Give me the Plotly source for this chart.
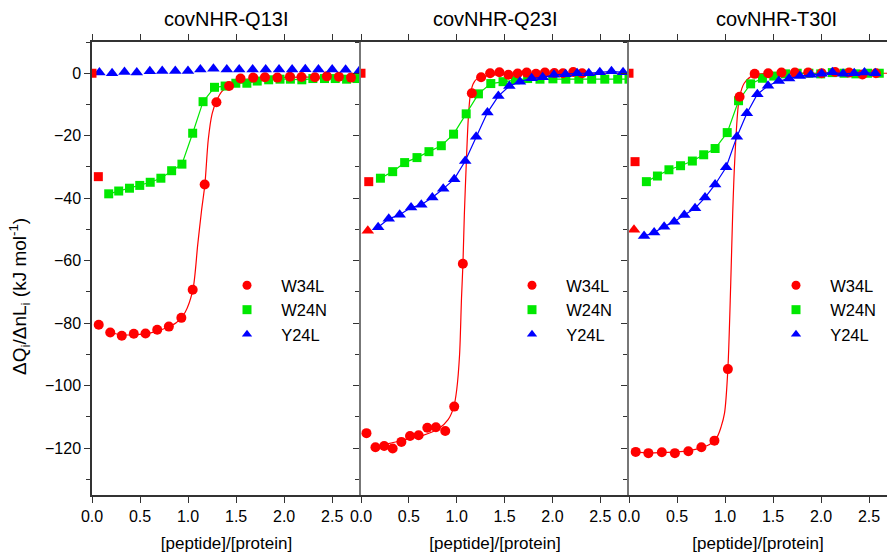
import plotly.graph_objects as go

# ---------------- data ----------------
panel_titles = ["covNHR-Q13I", "covNHR-Q23I", "covNHR-T30I"]
series_names = ["W34L", "W24N", "Y24L"]

# initial (discarded) injection shown at x~0 in every panel
zero_x = [0.0]
zero_y = [0.0]

# ---- covNHR-Q13I ----
q13_w34l_x = [0.07, 0.19, 0.31, 0.435, 0.557, 0.679, 0.80, 0.93, 1.048, 1.173, 1.295, 1.427, 1.546,
              1.678, 1.80, 1.93, 2.06, 2.18, 2.32, 2.445, 2.57, 2.696]
q13_w34l_y = [-80.5, -83.0, -84.0, -83.4, -83.3, -82.1, -81.1, -78.3, -69.3, -35.6, -9.3, -4.1, -1.7,
              -1.4, -1.3, -1.4, -1.1, -1.2, -1.3, -1.0, -1.1, -1.4]
q13_w34l_fit_x = [0.19, 0.3, 0.45, 0.6, 0.75, 0.88, 0.97, 1.05, 1.1, 1.14, 1.175, 1.21, 1.25, 1.3,
                  1.35, 1.45, 1.55, 1.7, 2.0, 2.4, 2.75]
q13_w34l_fit_y = [-83.0, -83.7, -83.7, -83.2, -81.8, -79.8, -76.5, -69.3, -55.0, -44.0, -35.6, -21.3,
                  -13.0, -8.6, -5.9, -3.4, -2.2, -1.6, -1.3, -1.2, -1.2]
q13_w24n_first = (0.066, -33.1)
q13_w24n_x = [0.174, 0.278, 0.39, 0.497, 0.606, 0.717, 0.829, 0.936, 1.048, 1.156, 1.275, 1.386, 1.497,
              1.612, 1.72, 1.839, 1.957, 2.065, 2.184, 2.299, 2.42, 2.532, 2.65, 2.758]
q13_w24n_y = [-38.6, -37.7, -36.8, -35.9, -34.9, -33.6, -31.2, -29.1, -19.2, -9.1, -4.5, -4.1, -3.2,
              -3.2, -2.5, -2.1, -1.9, -1.9, -2.1, -1.7, -1.7, -1.7, -1.9, -1.7]
q13_y24l_first = None
q13_y24l_x = [0.077, 0.209, 0.338, 0.466, 0.602, 0.731, 0.867, 0.999, 1.128, 1.264, 1.403, 1.532, 1.672,
              1.808, 1.947, 2.083, 2.22, 2.357, 2.5, 2.64, 2.786]
q13_y24l_y = [0.2, 0.0, 0.4, 0.2, 0.6, 0.7, 0.7, 0.7, 1.2, 1.4, 1.2, 1.2, 1.2, 1.2, 1.2, 1.2, 1.3, 1.2,
              1.2, 1.1, 0.9]

# ---- covNHR-Q23I ----
q23_w34l_x = [0.057, 0.151, 0.242, 0.331, 0.422, 0.512, 0.602, 0.693, 0.783, 0.88, 0.974, 1.064, 1.158,
              1.255, 1.349, 1.446, 1.54, 1.637, 1.731, 1.828, 1.922, 2.02, 2.11, 2.217, 2.31]
q23_w34l_y = [-115.2, -119.7, -119.3, -120.1, -118.0, -116.1, -115.9, -113.5, -113.3, -114.5, -106.7,
              -61.0, -6.4, -1.3, 0.0, 0.3, -0.5, -0.1, 0.2, -0.2, 0.2, 0.1, 0.0, 0.4, 0.0]
q23_w34l_fit_x = [0.15, 0.3, 0.46, 0.64, 0.81, 0.91, 0.97, 1.0, 1.03, 1.05, 1.065, 1.08, 1.10, 1.12,
                  1.14, 1.17, 1.21, 1.28, 1.4, 1.7, 2.2, 2.75]
q23_w34l_fit_y = [-119.5, -118.5, -117.3, -116.0, -113.8, -110.9, -106.7, -101.3, -90.0, -72.0, -61.0,
                  -45.0, -28.8, -15.0, -7.5, -3.5, -1.8, -1.0, -0.5, -0.2, 0.0, 0.0]
q23_w24n_first = (0.081, -34.7)
q23_w24n_x = [0.203, 0.331, 0.456, 0.585, 0.71, 0.839, 0.967, 1.099, 1.227, 1.356, 1.484, 1.613, 1.741,
              1.87, 2.005, 2.14, 2.276, 2.41, 2.547, 2.682, 2.80]
q23_w24n_y = [-33.6, -31.5, -28.6, -27.0, -25.1, -23.2, -19.5, -13.0, -6.6, -3.3, -2.7, -2.1, -1.7,
              -1.9, -1.8, -1.9, -1.9, -1.9, -1.9, -1.9, -1.9]
q23_y24l_first = (0.071, -50.4)
q23_y24l_x = [0.179, 0.29, 0.404, 0.523, 0.63, 0.745, 0.859, 0.974, 1.089, 1.203, 1.321, 1.435, 1.55,
              1.661, 1.783, 1.898, 2.016, 2.137, 2.258, 2.38, 2.495, 2.617, 2.738]
q23_y24l_y = [-49.3, -46.6, -45.3, -43.0, -42.1, -39.8, -37.0, -33.9, -28.1, -20.3, -12.6, -7.3, -4.1,
              -2.7, -1.6, -1.3, -0.5, -0.3, 0.0, 0.0, 0.3, 0.6, 0.3]

# ---- covNHR-T30I ----
t30_w34l_x = [0.07, 0.202, 0.342, 0.478, 0.618, 0.754, 0.89, 1.03, 1.152, 1.309, 1.45, 1.588, 1.728,
              1.867, 2.007, 2.147, 2.293, 2.432, 2.572]
t30_w34l_y = [-121.2, -121.6, -121.3, -121.6, -121.0, -119.7, -117.6, -94.7, -7.5, -0.2, 0.0, 0.2, 0.2,
              0.2, 0.0, 0.4, 0.2, -0.4, 0.0]
t30_w34l_fit_x = [0.07, 0.2, 0.35, 0.5, 0.62, 0.75, 0.85, 0.92, 0.96, 0.995, 1.03, 1.06, 1.08, 1.10,
                  1.134, 1.152, 1.2, 1.3, 1.5, 2.0, 2.69]
t30_w34l_fit_y = [-121.3, -121.5, -121.4, -121.2, -120.8, -119.9, -118.6, -116.3, -113.1, -108.8, -94.7,
                  -67.0, -45.0, -28.8, -11.7, -7.5, -3.2, -0.6, 0.0, 0.0, 0.0]
t30_w24n_first = (0.063, -28.3)
t30_w24n_x = [0.181, 0.296, 0.416, 0.537, 0.66, 0.778, 0.897, 1.023, 1.141, 1.267, 1.39, 1.508, 1.63,
              1.752, 1.874, 1.997, 2.118, 2.24, 2.363, 2.485, 2.607]
t30_w24n_y = [-34.7, -32.9, -30.9, -29.6, -28.1, -26.1, -24.1, -19.0, -8.8, -3.4, -1.6, -0.9, -0.2, 0.0,
              0.0, -0.2, 0.2, 0.0, -0.2, 0.0, 0.0]
t30_y24l_first = (0.052, -50.1)
t30_y24l_x = [0.157, 0.262, 0.366, 0.471, 0.576, 0.688, 0.792, 0.897, 1.012, 1.124, 1.228, 1.337, 1.448,
              1.56, 1.668, 1.78, 1.895, 2.007, 2.118, 2.23, 2.346, 2.453, 2.565]
t30_y24l_y = [-52.1, -51.0, -49.1, -47.5, -45.4, -43.2, -39.8, -35.6, -30.1, -20.3, -12.8, -6.7, -4.0,
              -2.5, -1.7, -0.9, -0.5, -0.2, 0.3, -0.2, 0.0, 0.2, 0.0]

x_tick_vals = [0.0, 0.5, 1.0, 1.5, 2.0, 2.5]
y_tick_vals = [0, -20, -40, -60, -80, -100, -120]

# ---------------- styling / layout ----------------
W, H = 887, 553
ML, MR, MT, MB = 92, 0, 42, 58
PW = W - ML - MR
PH = H - MT - MB
bounds_px = [92, 361, 629, 887]
domains = [[(bounds_px[i] - ML) / PW, (bounds_px[i + 1] - ML) / PW] for i in range(3)]
x_ranges = [[0, 2.8], [0, 2.8], [0, (887 - 629) / 96.0]]

RED, GREEN, BLUE = "#ff0000", "#00e800", "#0000ff"
FONT = "Liberation Sans, Arial, sans-serif"
NBSP = "\u00a0"

panels = [
    dict(w34=(q13_w34l_x, q13_w34l_y), fit=(q13_w34l_fit_x, q13_w34l_fit_y),
         w24=(q13_w24n_x, q13_w24n_y), w24f=q13_w24n_first,
         y24=(q13_y24l_x, q13_y24l_y), y24f=q13_y24l_first, y24line=False),
    dict(w34=(q23_w34l_x, q23_w34l_y), fit=(q23_w34l_fit_x, q23_w34l_fit_y),
         w24=(q23_w24n_x, q23_w24n_y), w24f=q23_w24n_first,
         y24=(q23_y24l_x, q23_y24l_y), y24f=q23_y24l_first, y24line=True),
    dict(w34=(t30_w34l_x, t30_w34l_y), fit=(t30_w34l_fit_x, t30_w34l_fit_y),
         w24=(t30_w24n_x, t30_w24n_y), w24f=t30_w24n_first,
         y24=(t30_y24l_x, t30_y24l_y), y24f=t30_y24l_first, y24line=True),
]

fig = go.Figure()
legend_px = [222, 507, 771]

for i, p in enumerate(panels):
    xa = "x" if i == 0 else f"x{i+1}"
    ya = "y" if i == 0 else f"y{i+1}"
    lg = "legend" if i == 0 else f"legend{i+1}"
    common = dict(xaxis=xa, yaxis=ya, legend=lg)
    # fit curve for W34L
    fig.add_trace(go.Scatter(x=p["fit"][0], y=p["fit"][1], mode="lines", line=dict(color=RED, width=1.2, shape="spline", smoothing=0.8),
                             showlegend=False, hoverinfo="skip", **common))
    # W24N line
    fig.add_trace(go.Scatter(x=p["w24"][0], y=p["w24"][1], mode="lines+markers",
                             line=dict(color=GREEN, width=1.2),
                             marker=dict(symbol="square", size=9, color=GREEN),
                             name=series_names[1], showlegend=False, **common))
    # W34L markers
    fig.add_trace(go.Scatter(x=p["w34"][0], y=p["w34"][1], mode="markers",
                             marker=dict(symbol="circle", size=10, color=RED),
                             name=series_names[0], showlegend=False, **common))
    # Y24L
    fig.add_trace(go.Scatter(x=p["y24"][0], y=p["y24"][1], mode="lines+markers" if p["y24line"] else "markers",
                             line=dict(color=BLUE, width=1.2),
                             marker=dict(symbol="triangle-up", size=11, color=BLUE),
                             name=series_names[2], showlegend=False, **common))
    # first injections in red
    fig.add_trace(go.Scatter(x=zero_x, y=zero_y, mode="markers",
                             marker=dict(symbol="square", size=9, color=RED), showlegend=False, **common))
    fig.add_trace(go.Scatter(x=[p["w24f"][0]], y=[p["w24f"][1]], mode="markers",
                             marker=dict(symbol="square", size=9, color=RED), showlegend=False, **common))
    if p["y24f"] is not None:
        fig.add_trace(go.Scatter(x=[p["y24f"][0]], y=[p["y24f"][1]], mode="markers",
                                 marker=dict(symbol="triangle-up", size=11, color=RED), showlegend=False, **common))
    # legend entries
    for nm, sym, col in zip(series_names, ["circle", "square", "triangle-up"], [RED, GREEN, BLUE]):
        fig.add_trace(go.Scatter(x=[None], y=[None], mode="markers", name=NBSP * 2 + nm,
                                 marker=dict(symbol=sym, size=9, color=col), showlegend=True, **common))

layout = dict(
    width=W, height=H, margin=dict(l=ML, r=MR, t=MT, b=MB),
    paper_bgcolor="white", plot_bgcolor="white",
    font=dict(family=FONT, size=16, color="black"),
)

for i in range(3):
    sfx = "" if i == 0 else str(i + 1)
    layout["xaxis" + sfx] = dict(
        domain=domains[i], range=x_ranges[i], anchor="y" + sfx,
        tickvals=x_tick_vals, ticktext=[f"{v:.1f}" for v in x_tick_vals],
        ticks="outside", ticklen=6, tickwidth=1.2, tickcolor="#333",
        showline=True, linecolor="#333", linewidth=1.5, mirror="ticks",
        showgrid=False, zeroline=False,
        title=dict(text="[peptide]/[protein]", font=dict(size=17), standoff=13),
        tickfont=dict(size=16),
    )
    layout["yaxis" + sfx] = dict(
        domain=[0, 1], range=[-135, 10], anchor="x" + sfx,
        tickvals=y_tick_vals, showticklabels=(i == 0),
        ticks="outside", ticklen=6, tickwidth=1.2, tickcolor="#333",
        minor=dict(dtick=10, tick0=0, ticks="outside", ticklen=4, tickcolor="#333", tickwidth=1),
        showline=True, linecolor="#333" if i == 0 else "#777", linewidth=1.5 if i == 0 else 2,
        showgrid=False, zeroline=False, tickfont=dict(size=16),
    )
    lname = "legend" if i == 0 else f"legend{i+1}"
    layout[lname] = dict(
        x=(legend_px[i] - ML) / PW, y=(495 - 268) / PH, xanchor="left", yanchor="top",
        bgcolor="rgba(0,0,0,0)", font=dict(size=16.5), itemwidth=40,
        tracegroupgap=0,
    )

annotations = []
title_px = [226, 495, 776]
for i, t in enumerate(panel_titles):
    annotations.append(dict(text=t, x=(title_px[i] - ML) / PW, y=(495 - 19) / PH, xref="paper", yref="paper",
                            xanchor="center", yanchor="middle", showarrow=False, font=dict(size=20)))
annotations.append(dict(text="ΔQ<sub>i</sub>/ΔnL<sub>i</sub> (kJ mol<sup>-1</sup>)", textangle=-90,
                        x=(19 - ML) / PW, y=(495 - 297) / PH, xref="paper", yref="paper",
                        xanchor="center", yanchor="middle", showarrow=False, font=dict(size=19)))
layout["annotations"] = annotations

fig.update_layout(**layout)
fig.write_html("out.html")
